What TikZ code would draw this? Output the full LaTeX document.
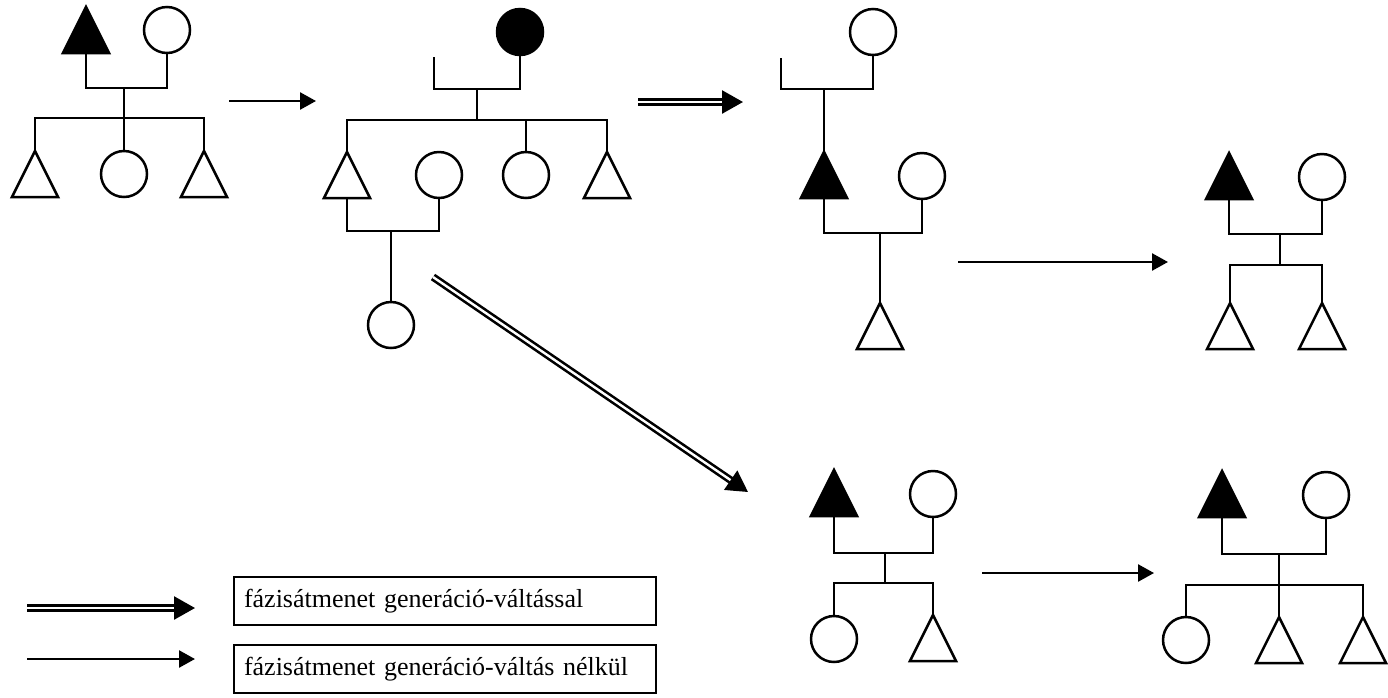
\documentclass[tikz,border=0pt]{standalone}
\usepackage{fontspec}
\setmainfont{Liberation Serif}
\usepackage{tikz}
\usetikzlibrary{shapes.geometric,arrows.meta}

\begin{document}
\begin{tikzpicture}[x=1pt,y=-1pt,line width=2.5pt,
                    tri/.style={isosceles triangle,shape border rotate=90,isosceles triangle stretches,
                                minimum width=46pt,minimum height=46pt,inner sep=0pt,outer sep=0pt,draw,anchor=north},
                    ftri/.style={tri,fill=black},
                    circ/.style={circle,draw,minimum size=46pt,inner sep=0pt,outer sep=0pt},
                    fcirc/.style={circ,fill=black},
                    thin arrow/.style={-{Triangle[length=16pt,width=17pt]}},
                    double arrow/.style={double,double distance=2.4pt,line width=2.6pt,-{Triangle[length=21pt,width=23pt]}},
                    legend/.style={draw,line width=2pt,anchor=west,minimum height=48pt,text width=402pt,
                                   inner xsep=10pt,align=left,font=\fontsize{26}{30}\selectfont}]

  \useasboundingbox (0,0) rectangle (1388,697);

  \node[ftri] (A1) at (86,7) {};
  \node[circ] (B1) at (167,30) {};
  \coordinate (M1) at (124,88);
  \coordinate (S1) at (124,118);
  \node[tri]  (C1) at (35,151) {};
  \node[circ] (C2) at (124,174) {};
  \node[tri]  (C3) at (204,151) {};
  \draw (A1.south) |- (M1) -| (B1.south);
  \draw (M1) -- (C2.north);
  \draw (C1.north) |- (S1) -| (C3.north);

  \coordinate (P1) at (229,101);
  \coordinate (Q1) at (316,101);
  \draw[thin arrow] (P1) -- (Q1);

  \node[fcirc] (B2) at (520,32) {};
  \coordinate (T2) at (434,57);
  \coordinate (M2) at (477,89);
  \coordinate (S2) at (477,120);
  \node[tri]  (C21) at (347,152) {};
  \node[circ] (D2)  at (439,175) {};
  \node[circ] (C22) at (526,175) {};
  \node[tri]  (C23) at (607,152) {};
  \coordinate (M22) at (391,231);
  \node[circ] (E2) at (391,325) {};
  \draw (T2) |- (M2) -| (B2.south);
  \draw (M2) -- (S2);
  \draw (C21.north) |- (S2) -| (C23.north);
  \draw (C22.north) -- (C22.north |- S2);
  \draw (C21.south) |- (M22) -| (D2.south);
  \draw (M22) -- (E2.north);

  \coordinate (P2) at (638,102);
  \coordinate (Q2) at (743,102);
  \draw[double arrow] (P2) -- (Q2);

  \node[circ] (B3) at (873,32) {};
  \coordinate (T3) at (781,58);
  \coordinate (M3) at (824,89);
  \node[ftri] (A3) at (824,152) {};
  \node[circ] (D3) at (922,176) {};
  \coordinate (M33) at (880,233);
  \node[tri]  (C3x) at (880,303) {};
  \draw (T3) |- (M3) -| (B3.south);
  \draw (M3) -- (A3.north);
  \draw (A3.south) |- (M33) -| (D3.south);
  \draw (M33) -- (C3x.north);

  \coordinate (P3) at (958,262);
  \coordinate (Q3) at (1168,262);
  \draw[thin arrow] (P3) -- (Q3);

  \node[ftri] (A4) at (1229,153) {};
  \node[circ] (B4) at (1322,177) {};
  \coordinate (M4) at (1280,234);
  \coordinate (S4) at (1280,265);
  \node[tri]  (C41) at (1230,303) {};
  \node[tri]  (C42) at (1322,303) {};
  \draw (A4.south) |- (M4) -| (B4.south);
  \draw (M4) -- (S4);
  \draw (C41.north) |- (S4) -| (C42.north);

  \coordinate (P4) at (433,277);
  \coordinate (Q4) at (748,492);
  \draw[double arrow] (P4) -- (Q4);

  \node[ftri] (A5) at (834,470) {};
  \node[circ] (B5) at (933,494) {};
  \coordinate (M5) at (885,553);
  \coordinate (S5) at (885,583);
  \node[circ] (C51) at (834,639) {};
  \node[tri]  (C52) at (933,615) {};
  \draw (A5.south) |- (M5) -| (B5.south);
  \draw (M5) -- (S5);
  \draw (C51.north) |- (S5) -| (C52.north);

  \coordinate (P5) at (982,573);
  \coordinate (Q5) at (1154,573);
  \draw[thin arrow] (P5) -- (Q5);

  \node[ftri] (A6) at (1222,471) {};
  \node[circ] (B6) at (1326,495) {};
  \coordinate (M6) at (1279,554);
  \coordinate (S6) at (1279,585);
  \node[circ] (C61) at (1186,640) {};
  \node[tri]  (C62) at (1279,617) {};
  \node[tri]  (C63) at (1363,617) {};
  \draw (A6.south) |- (M6) -| (B6.south);
  \draw (M6) -- (C62.north);
  \draw (C61.north) |- (S6) -| (C63.north);

  \coordinate (P6) at (27,608);
  \coordinate (Q6) at (195,608);
  \draw[double arrow] (P6) -- (Q6);
  \coordinate (P7) at (27,659);
  \coordinate (Q7) at (195,659);
  \draw[thin arrow] (P7) -- (Q7);
  \node[legend] (L1) at (233,601) {fázisátmenet generáció-váltással};
  \node[legend] (L2) at (233,669) {fázisátmenet generáció-váltás nélkül};
\end{tikzpicture}
\end{document}
